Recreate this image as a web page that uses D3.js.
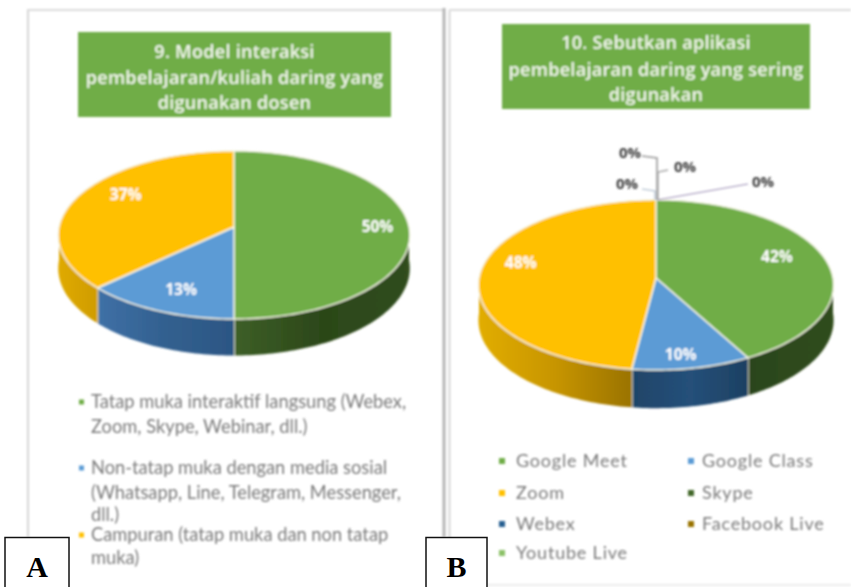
<!DOCTYPE html>
<html>
<head>
<meta charset="utf-8">
<script src="https://d3js.org/d3.v7.min.js"></script>
<style>
html, body { margin: 0; padding: 0; background: #fff; overflow: hidden; }
svg { font-family: "Open Sans", sans-serif; }
</style>
</head>
<body>
<div id="chart"></div>
<script>
const width = 851;
const height = 587;

// chart A
const categoriesA = [
    'Tatap muka interaktif langsung (Webex, Zoom, Skype, Webinar, dll.)',
    'Non-tatap muka dengan media sosial (Whatsapp, Line, Telegram, Messenger, dll.)',
    'Campuran (tatap muka dan non tatap muka)'
];
const valuesA = [50, 13, 37];
const titleA = ['9. Model interaksi', 'pembelajaran/kuliah daring yang', 'digunakan dosen'];
const legendLinesA = [
    ['Tatap muka interaktif langsung (Webex,', 'Zoom, Skype, Webinar, dll.)'],
    ['Non-tatap muka dengan media sosial', '(Whatsapp, Line, Telegram, Messenger,', 'dll.)'],
    ['Campuran (tatap muka dan non tatap', 'muka)']
];

// chart B
const categoriesB = ['Google Meet', 'Google Class', 'Zoom', 'Skype', 'Webex', 'Facebook Live', 'Youtube Live'];
const valuesB = [42, 10, 48, 0, 0, 0, 0];
const titleB = ['10. Sebutkan aplikasi', 'pembelajaran daring yang sering', 'digunakan'];

const colorsA = ['#70ad47', '#5b9bd5', '#ffc000'];
const colorsB = ['#70ad47', '#5b9bd5', '#ffc000', '#43682b', '#255e91', '#997300', '#8cc168'];

const svg = d3.select('#chart')
    .append('svg')
    .attr('width', width)
    .attr('height', height);

const defs = svg.append('defs');
defs.append('filter').attr('id', 'soft')
    .attr('x', '-5%').attr('y', '-5%').attr('width', '110%').attr('height', '110%')
    .append('feGaussianBlur').attr('stdDeviation', 0.8);

function wallGradient(id, stops) {
    const g = defs.append('linearGradient').attr('id', id)
        .attr('x1', '0').attr('x2', '1').attr('y1', '0').attr('y2', '0');
    stops.forEach((c, i) => {
        g.append('stop').attr('offset', i / (stops.length - 1)).attr('stop-color', c);
    });
}
wallGradient('wallGreenA', ['#3d5f27', '#2c4719', '#304d1d']);
wallGradient('wallBlueA', ['#3f70a6', '#32608f', '#2c5684']);
wallGradient('wallGoldA', ['#e0aa05', '#cf9c00']);
wallGradient('wallGreenB', ['#2b451a', '#304d1d']);
wallGradient('wallBlueB', ['#1f4468', '#25507a', '#1d4062']);
wallGradient('wallGoldB', ['#e2ad03', '#c79500', '#9a7300']);

// page frame lines
const frame = svg.append('g').attr('class', 'frame').attr('filter', 'url(#soft)');
const frameLines = [
    [27, 10, 443, 10, '#dcdcdc', 2],
    [28, 10, 28, 537, '#d6d6d6', 2],
    [444, 8, 444, 537, '#b5b5b5', 3],
    [449.5, 10, 449.5, 587, '#c9c9c9', 1.5],
    [449, 10, 851, 10, '#dcdcdc', 2],
    [449, 585, 851, 585, '#e4e4e4', 1.5]
];
frame.selectAll('line')
    .data(frameLines)
    .enter()
    .append('line')
    .attr('x1', d => d[0]).attr('y1', d => d[1])
    .attr('x2', d => d[2]).attr('y2', d => d[3])
    .attr('stroke', d => d[4])
    .attr('stroke-width', d => d[5]);

function drawPie3d(cfg) {
    const g = svg.append('g').attr('filter', 'url(#soft)');

    // perspective: the back of the pie is drawn smaller than the front
    const project = (a, r, drop) => {
        const s = 1 / (1 - cfg.k * -Math.cos(a));
        return [
            cfg.cx + cfg.rx * r * Math.sin(a) * s,
            cfg.cy - cfg.ry * r * Math.cos(a) * s + (drop || 0) * s
        ];
    };
    const arcPoints = (a0, a1, drop) => {
        const n = Math.max(2, Math.ceil((a1 - a0) / 0.02));
        return d3.range(n + 1).map(i => project(a0 + (a1 - a0) * i / n, 1, drop));
    };
    const line = d3.line();

    const slices = d3.pie().sort(null).value(d => d)(cfg.values);

    // side walls, front half only
    slices.forEach((s, i) => {
        const a0 = Math.max(s.startAngle, Math.PI / 2);
        const a1 = Math.min(s.endAngle, Math.PI * 1.5);
        if (a1 <= a0) return;
        const pts = arcPoints(a0, a1, 0).concat(arcPoints(a0, a1, cfg.depth).reverse());
        g.append('path')
            .attr('d', line(pts) + 'Z')
            .attr('fill', `url(#${cfg.walls[i]})`);
        if (s.endAngle < Math.PI * 1.5) {
            g.append('line')
                .attr('x1', project(a1, 1, 0)[0]).attr('y1', project(a1, 1, 0)[1])
                .attr('x2', project(a1, 1, cfg.depth)[0]).attr('y2', project(a1, 1, cfg.depth)[1])
                .attr('stroke', '#f4f4e8')
                .attr('stroke-width', 1.6);
        }
    });

    // top surface
    slices.filter(s => s.value > 0).forEach((s, i) => {
        const pts = [[cfg.cx, cfg.cy]].concat(arcPoints(s.startAngle, s.endAngle, 0));
        g.append('path')
            .attr('d', line(pts) + 'Z')
            .attr('fill', cfg.colors[i])
            .attr('stroke', '#f6f6e6')
            .attr('stroke-width', 1.4)
            .attr('stroke-linejoin', 'round');
    });

    // data labels
    slices.filter(s => s.value > 0).forEach((s, i) => {
        const [x, y] = project((s.startAngle + s.endAngle) / 2, cfg.labelR[i]);
        g.append('text')
            .attr('x', x + cfg.labelNudge[i][0])
            .attr('y', y + cfg.labelNudge[i][1])
            .attr('dy', '0.35em')
            .attr('text-anchor', 'middle')
            .attr('font-size', 15.5)
            .attr('font-weight', 700)
            .attr('fill', '#fff')
            .text(`${s.value}%`);
    });
}

function drawTitle(cfg) {
    const g = svg.append('g').attr('filter', 'url(#soft)');
    g.append('rect')
        .attr('x', cfg.x).attr('y', cfg.y)
        .attr('width', cfg.w).attr('height', cfg.h)
        .attr('fill', '#70ad47');
    g.selectAll('text')
        .data(cfg.lines)
        .enter()
        .append('text')
        .attr('x', cfg.x + cfg.w / 2)
        .attr('y', (d, i) => cfg.lineY[i])
        .attr('dy', '0.35em')
        .attr('text-anchor', 'middle')
        .attr('font-size', 18)
        .attr('font-weight', 600)
        .attr('letter-spacing', 0.3)
        .attr('fill', '#f2f7ec')
        .text(d => d);
}

drawTitle({ x: 78, y: 32, w: 313, h: 85, lines: titleA, lineY: [52, 78, 103] });
drawTitle({ x: 502, y: 24, w: 308, h: 85, lines: titleB, lineY: [43, 70, 95] });

drawPie3d({
    values: valuesA, colors: colorsA,
    walls: ['wallGreenA', 'wallBlueA', 'wallGoldA'],
    cx: 234, cy: 227, rx: 175, ry: 83.3, k: 0.095, depth: 33,
    labelR: [0.82, 0.8, 0.7],
    labelNudge: [[0, 0], [8, -4], [0, -10]]
});

drawPie3d({
    values: valuesB, colors: colorsB,
    walls: ['wallGreenB', 'wallBlueB', 'wallGoldB'],
    cx: 656, cy: 278, rx: 177, ry: 84.5, k: 0.082, depth: 35,
    labelR: [0.72, 0.85, 0.77],
    labelNudge: [[0, -7], [-6, 0], [0, -11]]
});

// leader lines and labels of the empty slices in chart B
const zeroLabels = valuesB.filter(v => v === 0).map(v => `${v}%`);
const zeroLabelPos = [[630, 153], [685, 167], [627, 184], [763, 182]];
const leaderPaths = [
    ['M642,156L657,158L657,200', '#9a9a9a', 1.6],
    ['M668,170L658,172L658,200', '#a5a5a5', 1.4],
    ['M642,189L655,191L655,200', '#a9b8c8', 1.2],
    ['M748,184L657,200', '#9c8fb5', 1.1]
];
const zeroGroup = svg.append('g').attr('filter', 'url(#soft)');
zeroGroup.selectAll('path')
    .data(leaderPaths)
    .enter()
    .append('path')
    .attr('d', d => d[0])
    .attr('fill', 'none')
    .attr('stroke', d => d[1])
    .attr('stroke-width', d => d[2]);
zeroGroup.selectAll('text')
    .data(zeroLabels)
    .enter()
    .append('text')
    .attr('x', (d, i) => zeroLabelPos[i][0])
    .attr('y', (d, i) => zeroLabelPos[i][1])
    .attr('dy', '0.35em')
    .attr('text-anchor', 'middle')
    .attr('font-size', 15)
    .attr('font-weight', 700)
    .attr('fill', '#404040')
    .text(d => d);

// legend A
const legendA = svg.append('g').attr('filter', 'url(#soft)')
    .attr('font-size', 18.3)
    .attr('font-family', 'Lato, sans-serif');
const legendARows = [[402, 427], [468, 493, 515], [535, 558]];
legendLinesA.forEach((lines, i) => {
    legendA.append('rect')
        .attr('x', 79).attr('y', legendARows[i][0] - 2.5)
        .attr('width', 5).attr('height', 5)
        .attr('fill', colorsA[i]);
    lines.forEach((t, j) => {
        legendA.append('text')
            .attr('x', 91).attr('y', legendARows[i][j])
            .attr('dy', '0.35em')
            .attr('fill', '#7a7a7a')
            .text(t);
    });
});

// legend B
const legendB = svg.append('g').attr('filter', 'url(#soft)')
    .attr('font-size', 18)
    .attr('font-family', 'Lato, sans-serif');
const legendBX = [499, 688];
const legendBY = [461, 493, 524, 553];
categoriesB.forEach((c, i) => {
    const col = i % 2;
    const row = Math.floor(i / 2);
    legendB.append('rect')
        .attr('x', legendBX[col]).attr('y', legendBY[row] - 3)
        .attr('width', 6).attr('height', 6)
        .attr('fill', colorsB[i]);
    legendB.append('text')
        .attr('x', legendBX[col] + (col ? 14 : 17)).attr('y', legendBY[row])
        .attr('dy', '0.35em')
        .attr('fill', '#7a7a7a')
        .attr('letter-spacing', 0.8)
        .text(c);
});

// panel letters
const panelLetters = [['A', 5, 64], ['B', 426, 61]];
panelLetters.forEach(([t, x, w]) => {
    svg.append('rect')
        .attr('x', x).attr('y', 537.5)
        .attr('width', w).attr('height', 52)
        .attr('fill', '#fff')
        .attr('stroke', '#111')
        .attr('stroke-width', 1.5);
    svg.append('text')
        .attr('x', x + w / 2).attr('y', 577)
        .attr('text-anchor', 'middle')
        .attr('font-size', 30)
        .attr('font-weight', 700)
        .attr('font-family', '"Liberation Serif", serif')
        .attr('fill', '#000')
        .text(t);
});
</script>
</body>
</html>
